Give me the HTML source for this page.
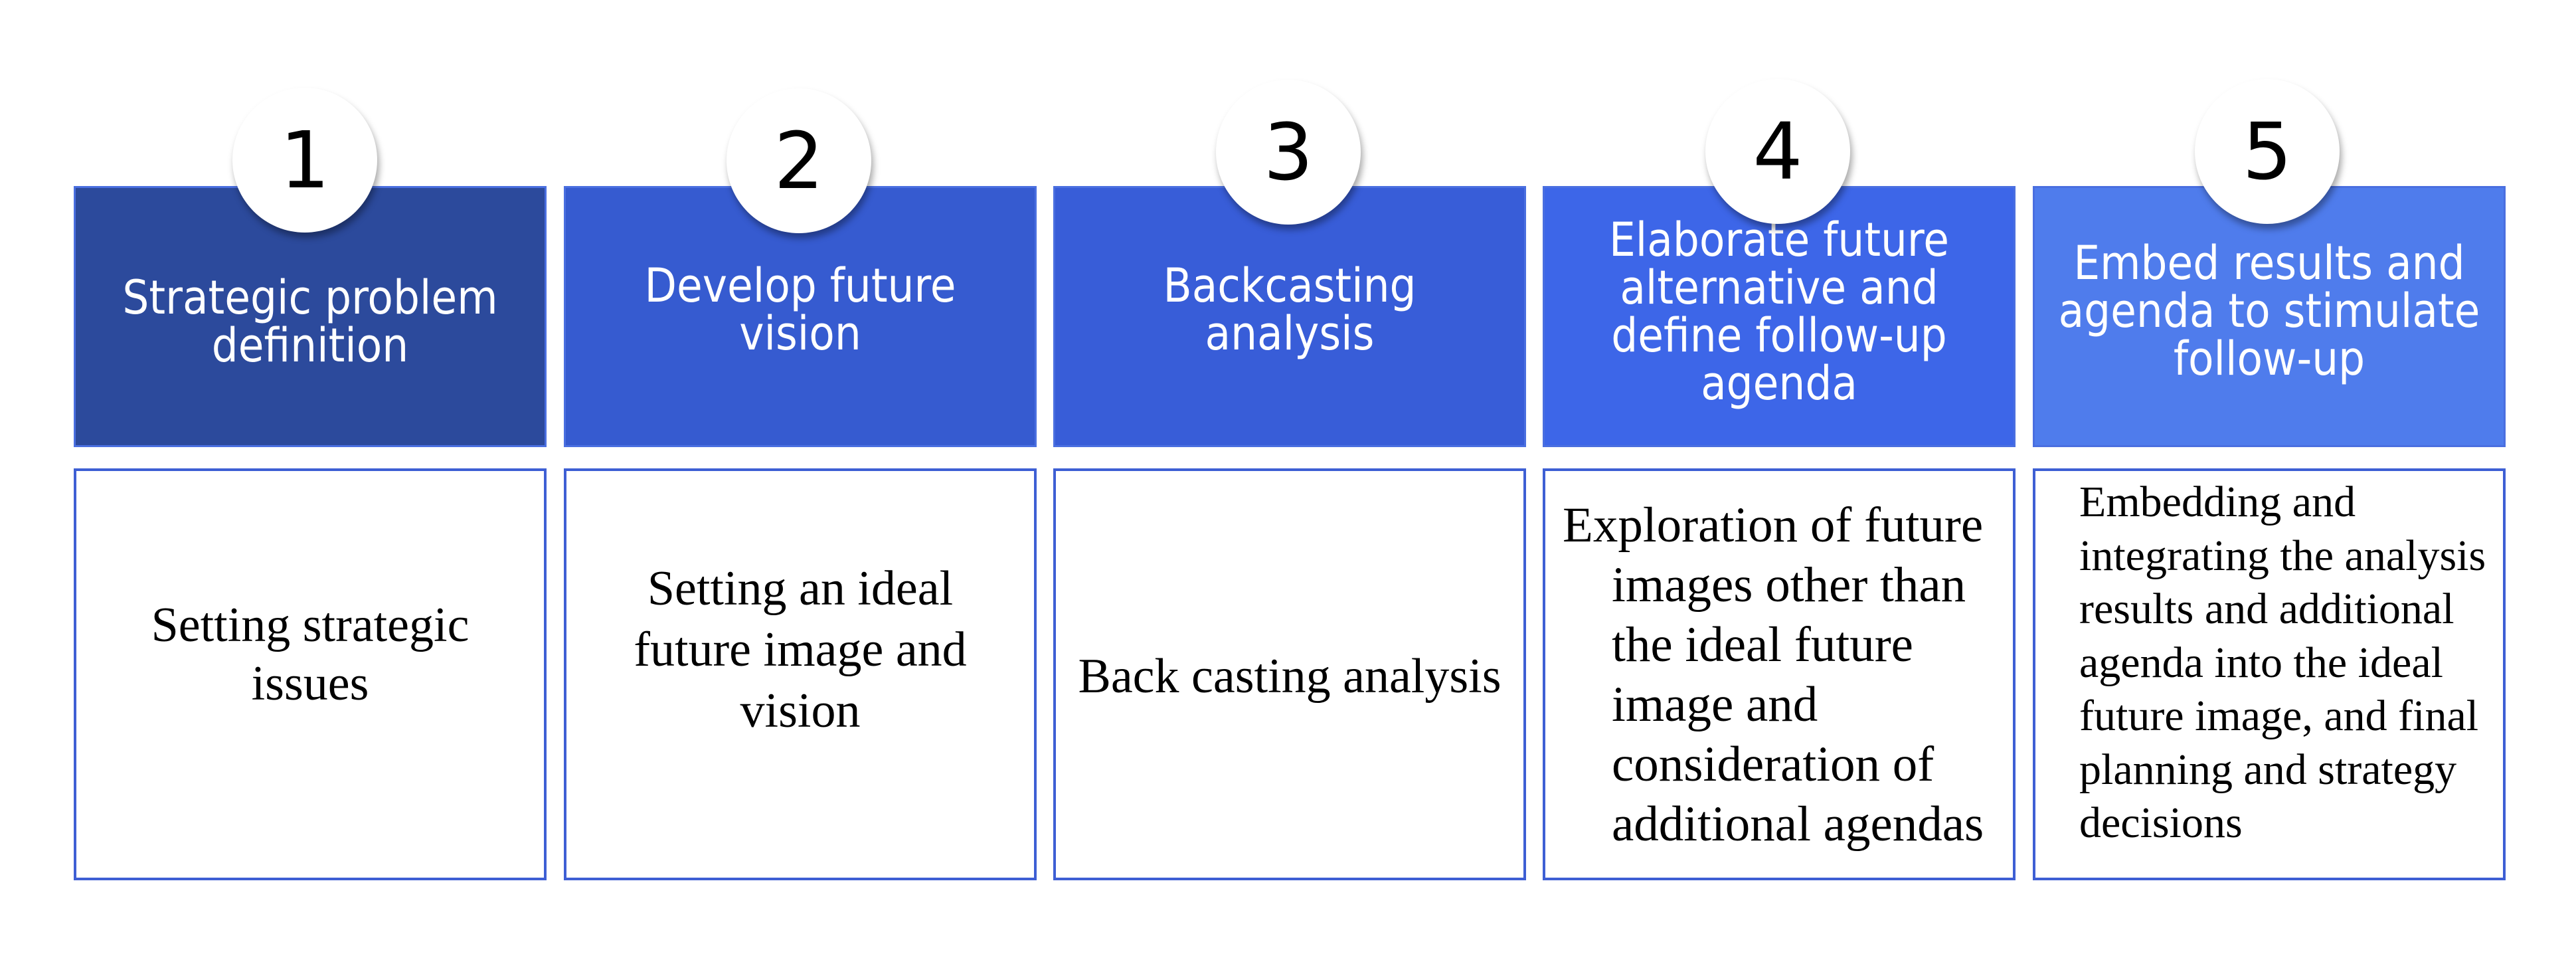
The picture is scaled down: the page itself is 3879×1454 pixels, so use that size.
<!DOCTYPE html>
<html><head><meta charset="utf-8"><style>
html,body{margin:0;padding:0;background:#fff;}
body{width:3879px;height:1454px;position:relative;overflow:hidden;}
.h{position:absolute;top:280px;height:393px;width:712px;box-sizing:border-box;border:3px solid #4a6fe0;color:#fff;font-family:"DejaVu Sans Condensed","Liberation Sans",sans-serif;font-size:70px;line-height:72px;text-align:center;}
.h div{position:absolute;left:0;right:0;}
.b{position:absolute;top:705px;height:620px;width:712px;box-sizing:border-box;border:4px solid #3e5fd4;background:#fff;color:#000;font-family:"Liberation Serif",serif;}
.b div{position:absolute;}
.c{position:absolute;width:218px;height:218px;border-radius:50%;background:#fff;box-shadow:3px 8px 10px rgba(0,0,0,0.35);font-family:"DejaVu Sans","Liberation Sans",sans-serif;font-size:118px;line-height:218px;text-align:center;color:#000;}
</style></head><body>
<div class="h" style="left:111px;background:#2c4a9c;"><div style="top:129px">Strategic problem<br>definition</div></div>
<div class="h" style="left:849px;background:#365bd0;"><div style="top:111px">Develop future<br>vision</div></div>
<div class="h" style="left:1586px;background:#385dd8;"><div style="top:111px">Backcasting<br>analysis</div></div>
<div class="h" style="left:2323px;background:#3d66e8;"><div style="top:42px">Elaborate future<br>alternative and<br>define follow-up<br>agenda</div></div>
<div class="h" style="left:3061px;background:#4f7cec;"><div style="top:77px">Embed results and<br>agenda to stimulate<br>follow-up</div></div>

<div class="b" style="left:111px;"><div style="left:0;right:0;top:188px;text-align:center;font-size:74px;line-height:88px;">Setting strategic<br>issues</div></div>
<div class="b" style="left:849px;"><div style="left:0;right:0;top:131px;text-align:center;font-size:74px;line-height:92px;">Setting an ideal<br>future image and<br>vision</div></div>
<div class="b" style="left:1586px;"><div style="left:0;right:0;top:265px;text-align:center;font-size:74px;line-height:88px;">Back casting analysis</div></div>
<div class="b" style="left:2323px;"><div style="left:100px;top:37px;text-indent:-74px;font-size:75px;line-height:90px;white-space:nowrap;">Exploration of future<br>images other than<br>the ideal future<br>image and<br>consideration of<br>additional agendas</div></div>
<div class="b" style="left:3061px;"><div style="left:66px;top:7px;font-size:66px;line-height:80.5px;white-space:nowrap;">Embedding and<br>integrating the analysis<br>results and additional<br>agenda into the ideal<br>future image, and final<br>planning and strategy<br>decisions</div></div>

<div class="c" style="left:350px;top:132px;">1</div>
<div class="c" style="left:1094px;top:133px;">2</div>
<div class="c" style="left:1831px;top:120px;">3</div>
<div class="c" style="left:2568px;top:119px;">4</div>
<div class="c" style="left:3305px;top:119px;">5</div>
</body></html>
